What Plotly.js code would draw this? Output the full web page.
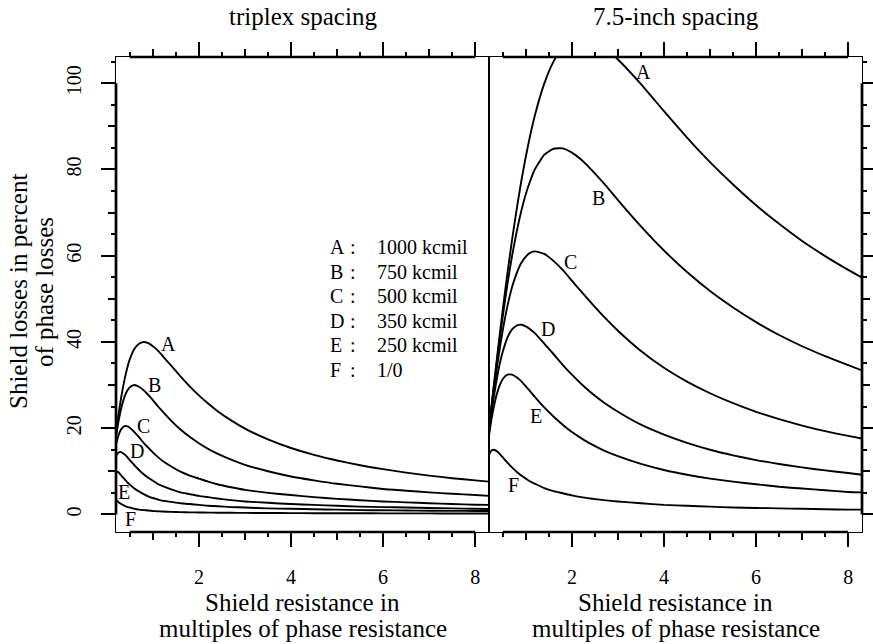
<!DOCTYPE html>
<html><head><meta charset="utf-8">
<script src="https://cdn.plot.ly/plotly-3.0.1.min.js"></script>
<style>html,body{margin:0;padding:0;background:#fff;}#chart{width:873px;height:644px;}</style>
</head><body><div id="chart"></div>
<script>
// Shield resistance (multiples of phase resistance)
const xs = [0.2, 0.25, 0.3, 0.35, 0.4, 0.45, 0.5, 0.6, 0.7, 0.8, 0.9, 1.0, 1.1, 1.2, 1.4, 1.6, 1.8, 2.0, 2.2, 2.4, 2.7, 3.0, 3.5, 4.0, 4.5, 5.0, 5.5, 6.0, 6.5, 7.0, 7.5, 8.0, 8.3];

// triplex spacing, shield losses in percent of phase losses
const tripA = [18.8, 22.8, 26.3, 29.4, 32.0, 34.2, 36.0, 38.4, 39.6, 40.0, 39.7, 39.0, 38.1, 36.9, 34.5, 32.0, 29.7, 27.6, 25.7, 24.0, 21.8, 19.9, 17.4, 15.4, 13.8, 12.5, 11.4, 10.5, 9.7, 9.0, 8.4, 7.9, 7.6];
const tripB = [18.0, 21.3, 24.0, 26.1, 27.7, 28.8, 29.5, 30.0, 29.6, 28.8, 27.7, 26.5, 25.2, 24.0, 21.7, 19.7, 18.0, 16.5, 15.2, 14.1, 12.7, 11.5, 10.0, 8.8, 7.9, 7.1, 6.5, 5.9, 5.5, 5.1, 4.8, 4.5, 4.3];
const tripC = [16.2, 18.2, 19.5, 20.2, 20.5, 20.4, 20.1, 19.1, 17.9, 16.6, 15.5, 14.4, 13.4, 12.5, 11.1, 9.9, 9.0, 8.3, 7.6, 7.0, 6.3, 5.7, 5.0, 4.5, 4.0, 3.6, 3.3, 3.0, 2.8, 2.6, 2.4, 2.25, 2.2];
const tripD = [13.6, 14.3, 14.5, 14.2, 13.8, 13.2, 12.6, 11.4, 10.3, 9.3, 8.5, 7.8, 7.1, 6.6, 5.8, 5.1, 4.7, 4.3, 4.0, 3.7, 3.3, 3.0, 2.7, 2.4, 2.2, 2.0, 1.8, 1.7, 1.6, 1.5, 1.4, 1.3, 1.25];
const tripE = [10.0, 9.8, 9.2, 8.6, 8.0, 7.4, 6.9, 6.0, 5.3, 4.7, 4.2, 3.8, 3.5, 3.2, 2.9, 2.6, 2.4, 2.2, 2.0, 1.9, 1.7, 1.6, 1.4, 1.3, 1.2, 1.1, 1.0, 0.95, 0.9, 0.85, 0.82, 0.8, 0.78];
const tripF = [3.4, 2.9, 2.5, 2.2, 1.9, 1.7, 1.6, 1.3, 1.1, 1.0, 0.9, 0.8, 0.73, 0.67, 0.58, 0.52, 0.48, 0.45, 0.42, 0.4, 0.37, 0.35, 0.32, 0.3, 0.28, 0.27, 0.26, 0.25, 0.24, 0.23, 0.22, 0.21, 0.2];

// 7.5-inch spacing
const inchA = [19.8, 24.7, 29.5, 34.1, 38.7, 43.2, 47.6, 55.9, 63.6, 70.7, 77.2, 83.0, 88.2, 92.7, 99.9, 105.0, 108.2, 110.0, 110.5, 110.1, 108.3, 105.5, 99.8, 93.5, 87.4, 81.7, 76.5, 71.7, 67.4, 63.4, 59.9, 56.7, 54.9];
const inchB = [19.7, 24.5, 29.1, 33.6, 37.9, 42.1, 46.0, 53.4, 59.9, 65.5, 70.3, 74.3, 77.5, 80.1, 83.4, 84.8, 84.9, 83.9, 82.3, 80.2, 76.7, 72.9, 66.8, 61.2, 56.2, 51.8, 48.0, 44.6, 41.6, 39.0, 36.7, 34.6, 33.4];
const inchC = [19.5, 24.0, 28.3, 32.3, 36.1, 39.6, 42.8, 48.3, 52.7, 55.9, 58.3, 59.8, 60.7, 61.0, 60.4, 58.8, 56.7, 54.2, 51.7, 49.3, 45.8, 42.6, 37.9, 34.0, 30.8, 28.1, 25.8, 23.8, 22.1, 20.6, 19.3, 18.2, 17.6];
const inchD = [19.0, 23.1, 26.9, 30.2, 33.2, 35.7, 37.8, 41.0, 42.9, 43.8, 44.0, 43.6, 42.9, 42.0, 39.6, 37.2, 34.7, 32.4, 30.3, 28.4, 25.9, 23.8, 20.8, 18.5, 16.6, 15.0, 13.7, 12.6, 11.7, 10.9, 10.2, 9.6, 9.2];
const inchE = [18.3, 21.8, 24.7, 27.1, 29.0, 30.4, 31.4, 32.4, 32.4, 31.8, 30.9, 29.7, 28.5, 27.2, 24.8, 22.7, 20.8, 19.1, 17.7, 16.4, 14.8, 13.5, 11.7, 10.3, 9.2, 8.3, 7.6, 7.0, 6.4, 6.0, 5.6, 5.2, 5.1];
const inchF = [13.8, 14.8, 15.0, 14.8, 14.4, 13.8, 13.2, 12.0, 10.9, 9.9, 9.0, 8.3, 7.6, 7.1, 6.1, 5.4, 4.9, 4.4, 4.0, 3.7, 3.3, 3.0, 2.6, 2.2, 2.0, 1.8, 1.6, 1.5, 1.4, 1.3, 1.2, 1.1, 1.1];

const curveLetters = ['A', 'B', 'C', 'D', 'E', 'F'];
const legendSizes = ['1000 kcmil', '750 kcmil', '500 kcmil', '350 kcmil', '250 kcmil', '1/0'];
const panelTitles = ['triplex spacing', '7.5-inch spacing'];
const xTitleLines = ['Shield resistance in', 'multiples of phase resistance'];
const yTitleLines = ['Shield losses in percent', 'of phase losses'];

// curve label positions (data units) for each panel
const tripLabelX = [1.35, 1.03, 0.79, 0.65, 0.37, 0.52];
const tripLabelY = [39.5, 30.0, 20.5, 14.8, 5.1, -1.1];
const inchLabelX = [3.55, 2.57, 1.97, 1.49, 1.22, 0.73];
const inchLabelY = [102.6, 73.3, 58.6, 42.9, 22.9, 6.9];

// axis settings
const xRange = [0.2, 8.3];
const yRange = [-4.08, 106.08];
const xAxisSpan = [0.5, 8];   // first..last tick
const yAxisSpan = [0, 100];

const W = 873, H = 644;
const M = {l: 116, r: 11, t: 57, b: 112};
const pw = W - M.l - M.r, ph = H - M.t - M.b;
const px2x = p => (p - M.l) / pw;
const px2y = p => (H - M.b - p) / ph;

const FONT = 'Liberation Serif';
const lineStyle = {color: '#000', width: 1.9, shape: 'spline', smoothing: 0.5};

const traces = [];
[tripA, tripB, tripC, tripD, tripE, tripF].forEach(v => traces.push({
  x: xs, y: v, xaxis: 'x', yaxis: 'y', mode: 'lines', line: lineStyle, hoverinfo: 'skip', showlegend: false
}));
[inchA, inchB, inchC, inchD, inchE, inchF].forEach(v => traces.push({
  x: xs, y: v, xaxis: 'x2', yaxis: 'y2', mode: 'lines', line: lineStyle, hoverinfo: 'skip', showlegend: false
}));
// empty traces so overlay tick axes exist
traces.push({x: [], y: [], xaxis: 'x3', yaxis: 'y3', mode: 'lines', showlegend: false, hoverinfo: 'skip'});
traces.push({x: [], y: [], xaxis: 'x4', yaxis: 'y4', mode: 'lines', showlegend: false, hoverinfo: 'skip'});

const tickFont = {family: FONT, size: 20, color: '#000'};
function xAx(domain, anchor) {
  return {
    domain: domain, range: xRange, anchor: anchor, tickmode: 'linear', tick0: 0, dtick: 2,
    ticks: 'outside', ticklen: 14, tickwidth: 2, tickcolor: '#000',
    showline: true, linecolor: '#000', linewidth: 1, mirror: 'ticks',
    showgrid: false, zeroline: false, tickfont: tickFont, ticklabelstandoff: 13,
    minor: {tick0: 0, dtick: 0.5, ticks: 'outside', ticklen: 4, tickwidth: 2, tickcolor: '#000', showgrid: false},
    fixedrange: true
  };
}
function xMid(over, anchor) {
  return {
    overlaying: over, anchor: anchor, range: xRange, tickmode: 'linear', tick0: 1, dtick: 1,
    ticks: 'outside', ticklen: 7, tickwidth: 2, tickcolor: '#000',
    showline: false, mirror: 'ticks', showticklabels: false, showgrid: false, zeroline: false, fixedrange: true
  };
}
function yMid(over, anchor, side) {
  return {
    overlaying: over, anchor: anchor, side: side, range: yRange, tickmode: 'linear', tick0: 10, dtick: 20,
    ticks: 'outside', ticklen: 7, tickwidth: 2, tickcolor: '#000',
    showline: false, showticklabels: false, showgrid: false, zeroline: false, fixedrange: true
  };
}

const layout = {
  width: W, height: H, margin: M, paper_bgcolor: '#fff', plot_bgcolor: '#fff',
  showlegend: false, font: {family: FONT, color: '#000'},
  xaxis: xAx([0, 0.5], 'y'),
  xaxis2: xAx([0.5, 1], 'y2'),
  xaxis3: xMid('x', 'y3'),
  xaxis4: xMid('x2', 'y4'),
  yaxis: {
    domain: [0, 1], range: yRange, anchor: 'x', side: 'left', tickmode: 'linear', tick0: 0, dtick: 20,
    ticks: 'outside', ticklen: 14, tickwidth: 2, tickcolor: '#000', tickangle: -90,
    showline: true, linecolor: '#000', linewidth: 1, mirror: true,
    showgrid: false, zeroline: false, tickfont: tickFont, ticklabelstandoff: 12,
    minor: {tick0: 0, dtick: 5, ticks: 'outside', ticklen: 4, tickwidth: 2, tickcolor: '#000', showgrid: false},
    fixedrange: true
  },
  yaxis2: {
    domain: [0, 1], range: yRange, anchor: 'x2', side: 'right', tickmode: 'linear', tick0: 0, dtick: 20,
    ticks: 'outside', ticklen: 14, tickwidth: 2, tickcolor: '#000', showticklabels: false,
    showline: true, linecolor: '#000', linewidth: 1, mirror: true,
    showgrid: false, zeroline: false,
    minor: {tick0: 0, dtick: 5, ticks: 'outside', ticklen: 4, tickwidth: 2, tickcolor: '#000', showgrid: false},
    fixedrange: true
  },
  yaxis3: yMid('y', 'x3', 'left'),
  yaxis4: yMid('y2', 'x4', 'right'),
  shapes: [],
  annotations: []
};

// thick axis segments between first and last tick (box stays thin)
const thick = {color: '#000', width: 2.7};
['x', 'x2'].forEach(xr => {
  [0, 1].forEach(py => layout.shapes.push({type: 'line', layer: 'above', xref: xr, yref: 'paper',
    x0: xAxisSpan[0], x1: xAxisSpan[1], y0: py, y1: py, line: thick}));
});
layout.shapes.push({type: 'line', layer: 'above', xref: 'paper', yref: 'y', x0: 0, x1: 0, y0: yAxisSpan[0], y1: yAxisSpan[1], line: thick});
layout.shapes.push({type: 'line', layer: 'above', xref: 'paper', yref: 'y2', x0: 1, x1: 1, y0: yAxisSpan[0], y1: yAxisSpan[1], line: thick});

const titleFont = {family: FONT, size: 25, color: '#000'};
const ann = layout.annotations;
// panel titles
panelTitles.forEach((t, i) => ann.push({text: t, xref: 'paper', yref: 'paper', x: 0.25 + 0.5 * i, y: px2y(17),
  xanchor: 'center', yanchor: 'middle', showarrow: false, font: titleFont}));
// x titles
[0, 1].forEach(i => {
  ann.push({text: xTitleLines[0], xref: 'paper', yref: 'paper', x: 0.25 + 0.5 * i, y: px2y(602),
    xanchor: 'center', yanchor: 'middle', showarrow: false, font: titleFont});
  ann.push({text: xTitleLines[1], xref: 'paper', yref: 'paper', x: 0.25 + 0.5 * i, y: px2y(628),
    xanchor: 'center', yanchor: 'middle', showarrow: false, font: titleFont});
});
// y title
ann.push({text: yTitleLines[0], xref: 'paper', yref: 'paper', x: px2x(18), y: px2y(292), textangle: -90,
  xanchor: 'center', yanchor: 'middle', showarrow: false, font: titleFont});
ann.push({text: yTitleLines[1], xref: 'paper', yref: 'paper', x: px2x(44), y: px2y(292), textangle: -90,
  xanchor: 'center', yanchor: 'middle', showarrow: false, font: titleFont});

// legend block
const labFont = {family: FONT, size: 20, color: '#000'};
curveLetters.forEach((c, i) => {
  const yy = px2y(247 + i * 24.5);
  ann.push({text: c, xref: 'paper', yref: 'paper', x: px2x(328), y: yy, xanchor: 'left', yanchor: 'middle', showarrow: false, font: labFont});
  ann.push({text: ':', xref: 'paper', yref: 'paper', x: px2x(353), y: yy, xanchor: 'center', yanchor: 'middle', showarrow: false, font: labFont});
  ann.push({text: legendSizes[i], xref: 'paper', yref: 'paper', x: px2x(375), y: yy, xanchor: 'left', yanchor: 'middle', showarrow: false, font: labFont});
});

// curve labels
curveLetters.forEach((c, i) => {
  ann.push({text: c, xref: 'x', yref: 'y', x: tripLabelX[i], y: tripLabelY[i], xanchor: 'center', yanchor: 'middle', showarrow: false, font: labFont});
  ann.push({text: c, xref: 'x2', yref: 'y2', x: inchLabelX[i], y: inchLabelY[i], xanchor: 'center', yanchor: 'middle', showarrow: false, font: labFont});
});

Plotly.newPlot('chart', traces, layout, {staticPlot: true, displayModeBar: false});
</script></body></html>
